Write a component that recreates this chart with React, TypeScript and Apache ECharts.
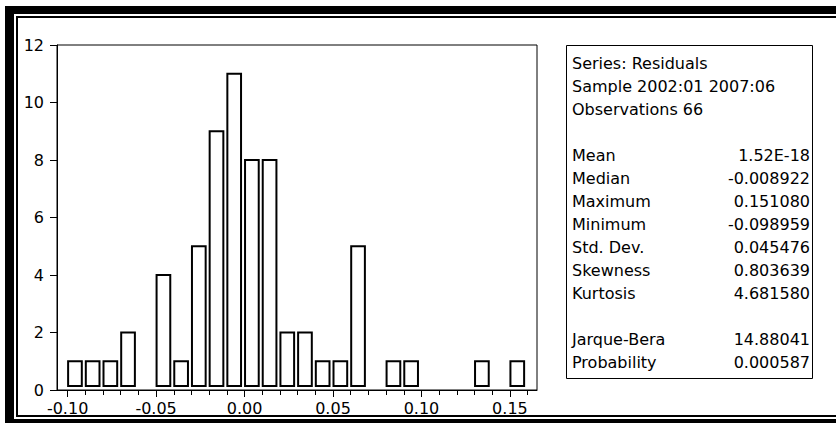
import React, { useEffect, useRef } from "react";
import * as echarts from "echarts";

// Histogram bins (lower edge, upper edge) and counts
const binLow = [-0.10, -0.09, -0.08, -0.07, -0.06, -0.05, -0.04, -0.03, -0.02, -0.01, 0.00, 0.01, 0.02, 0.03, 0.04, 0.05, 0.06, 0.07, 0.08, 0.09, 0.10, 0.11, 0.12, 0.13, 0.14, 0.15];
const binHigh = [-0.09, -0.08, -0.07, -0.06, -0.05, -0.04, -0.03, -0.02, -0.01, 0.00, 0.01, 0.02, 0.03, 0.04, 0.05, 0.06, 0.07, 0.08, 0.09, 0.10, 0.11, 0.12, 0.13, 0.14, 0.15, 0.16];
const binCounts = [1, 1, 1, 2, 0, 4, 1, 5, 9, 11, 8, 8, 2, 2, 1, 1, 5, 0, 1, 1, 0, 0, 0, 1, 0, 1];

// Axis ticks
const xMajorTicks = [-0.10, -0.05, 0.00, 0.05, 0.10, 0.15];
const xMinorTicks = [-0.10, -0.09, -0.08, -0.07, -0.06, -0.05, -0.04, -0.03, -0.02, -0.01, 0.00, 0.01, 0.02, 0.03, 0.04, 0.05, 0.06, 0.07, 0.08, 0.09, 0.10, 0.11, 0.12, 0.13, 0.14, 0.15, 0.16];
const xMin = -0.106;
const xMax = 0.1653;
const yMin = 0;
const yMax = 12;
const yInterval = 2;

// Statistics box
const headerLines = ["Series: Residuals", "Sample 2002:01 2007:06", "Observations 66"];
const statLabels = ["Mean", "Median", "Maximum", "Minimum", "Std. Dev.", "Skewness", "Kurtosis", "", "Jarque-Bera", "Probability"];
const statValues = ["1.52E-18", "-0.008922", "0.151080", "-0.098959", "0.045476", "0.803639", "4.681580", "", "14.88041", "0.000587"];

const FONT = "'DejaVu Sans', sans-serif";

export default function App() {
  const ref = useRef<HTMLDivElement>(null);

  useEffect(() => {
    if (!ref.current) return;
    const chart = echarts.init(ref.current, undefined, { renderer: "svg" });

    const data = binLow.map((lo, i) => [lo, binHigh[i], binCounts[i]]);

    const graphics: any[] = [
      // outer double frame
      { type: "rect", shape: { x: 5, y: 6, width: 831, height: 8 }, style: { fill: "#000" } },
      { type: "rect", shape: { x: 5, y: 6, width: 9, height: 417 }, style: { fill: "#000" } },
      { type: "rect", shape: { x: 5, y: 419, width: 831, height: 4 }, style: { fill: "#000" } },
      { type: "rect", shape: { x: 16, y: 16, width: 820, height: 2 }, style: { fill: "#000" } },
      { type: "rect", shape: { x: 16, y: 16, width: 2, height: 401 }, style: { fill: "#000" } },
      { type: "rect", shape: { x: 16, y: 415, width: 820, height: 2 }, style: { fill: "#000" } },
      // stats box
      {
        type: "rect",
        shape: { x: 566.5, y: 45.5, width: 246, height: 333 },
        style: { fill: "#fff", stroke: "#000", lineWidth: 1 },
      },
    ];

    const lineStep = 23;
    const firstY = 63.5;
    headerLines.forEach((t, i) => {
      graphics.push({
        type: "text",
        x: 572,
        y: firstY + i * lineStep,
        style: { text: t, font: `16px ${FONT}`, fill: "#000", textAlign: "left", textVerticalAlign: "middle" },
      });
    });
    statLabels.forEach((t, i) => {
      const y = firstY + (headerLines.length + 1 + i) * lineStep;
      if (t) {
        graphics.push({
          type: "text",
          x: 572,
          y,
          style: { text: t, font: `16px ${FONT}`, fill: "#000", textAlign: "left", textVerticalAlign: "middle" },
        });
      }
      if (statValues[i]) {
        graphics.push({
          type: "text",
          x: 810,
          y,
          style: { text: statValues[i], font: `16px ${FONT}`, fill: "#000", textAlign: "right", textVerticalAlign: "middle" },
        });
      }
    });

    const option: any = {
      animation: false,
      backgroundColor: "#fff",
      grid: {
        left: 57,
        right: 299,
        top: 45,
        bottom: 33,
        show: true,
        borderColor: "#000",
        borderWidth: 1,
        backgroundColor: "transparent",
        containLabel: false,
      },
      xAxis: [
        {
          type: "value",
          min: xMin,
          max: xMax,
          position: "bottom",
          axisLine: { show: true, onZero: false, lineStyle: { color: "#000", width: 1 } },
          axisTick: { show: true, customValues: xMajorTicks, length: 7, lineStyle: { color: "#000" } },
          axisLabel: {
            show: true,
            customValues: xMajorTicks,
            margin: 10,
            color: "#000",
            fontFamily: FONT,
            fontSize: 16,
            formatter: (v: number) => (Math.abs(v) < 1e-9 ? "0.00" : v.toFixed(2)),
          },
          splitLine: { show: false },
        },
        {
          type: "value",
          min: xMin,
          max: xMax,
          position: "bottom",
          axisLine: { show: false, onZero: false },
          axisTick: { show: true, customValues: xMinorTicks, length: 5, lineStyle: { color: "#000" } },
          axisLabel: { show: false },
          splitLine: { show: false },
        },
      ],
      yAxis: {
        type: "value",
        min: yMin,
        max: yMax,
        interval: yInterval,
        position: "left",
        axisLine: { show: true, onZero: false, lineStyle: { color: "#000", width: 1 } },
        axisTick: { show: true, length: 7, lineStyle: { color: "#000" } },
        axisLabel: { color: "#000", fontFamily: FONT, fontSize: 16, margin: 13 },
        splitLine: { show: false },
      },
      series: [
        {
          type: "custom",
          xAxisIndex: 0,
          yAxisIndex: 0,
          data,
          encode: { x: [0, 1], y: 2 },
          renderItem: (params: any, api: any) => {
            const lo = api.value(0);
            const hi = api.value(1);
            const c = api.value(2);
            if (!c) return null;
            const p0 = api.coord([lo, c]);
            const p1 = api.coord([hi, 0]);
            return {
              type: "rect",
              shape: {
                x: p0[0] + 0.5,
                y: p0[1],
                width: p1[0] - p0[0] - 4,
                height: p1[1] - 4 - p0[1],
              },
              style: { fill: "#fff", stroke: "#000", lineWidth: 2 },
            };
          },
        },
      ],
      graphic: graphics,
    };

    chart.setOption(option);
    return () => chart.dispose();
  }, []);

  return (
    <div
      ref={ref}
      style={{ position: "fixed", left: 0, top: 0, width: 836, height: 423, background: "#fff" }}
    />
  );
}
